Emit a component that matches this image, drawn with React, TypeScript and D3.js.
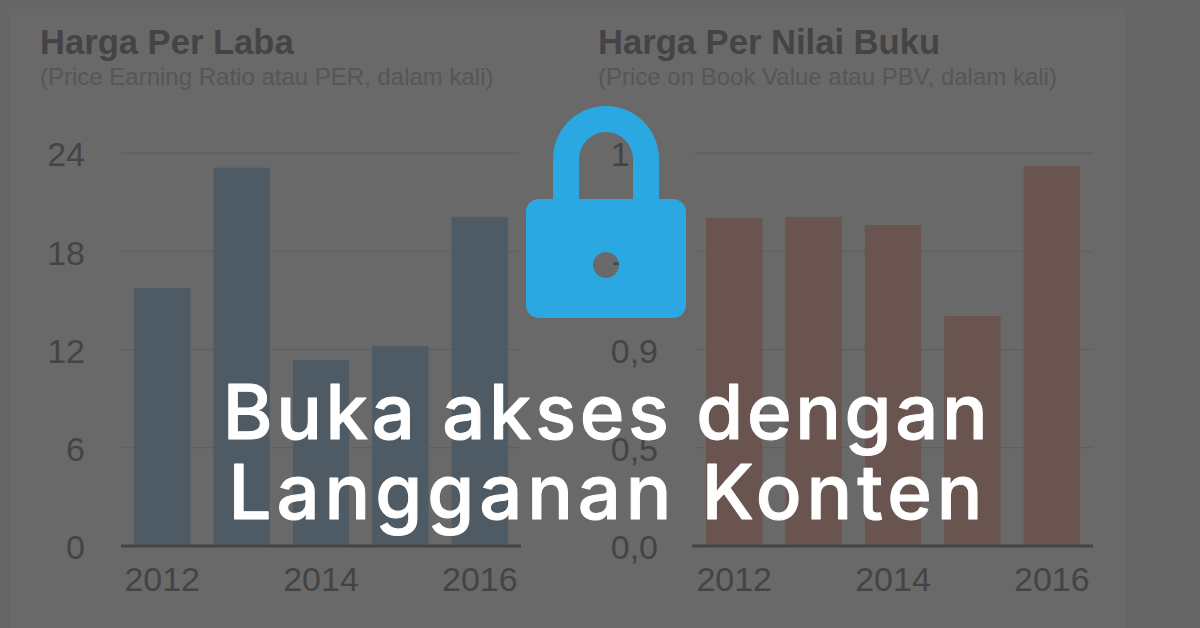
import { useEffect, useRef } from "react";
import * as d3 from "d3";

const years = ["2012", "2013", "2014", "2015", "2016"];
const yearLabels = ["2012", "2014", "2016"];
const perValues = [15.76, 23.1, 11.36, 12.2, 20.1];
const pbvValues = [1.502, 1.507, 1.47, 1.053, 1.74];
const perTicks = [0, 6, 12, 18, 24];
const pbvTicks = [0, 0.45, 0.9, 1.35, 1.8];
const pbvTickLabels = ["0,0", "0,5", "0,9", "1,4", "1,8"];

const FONT = "'Liberation Sans', Arial, sans-serif";
const INK = "#444444";

interface PanelProps {
  title: string;
  subtitle: string;
  values: number[];
  ticks: number[];
  tickLabels: string[];
  maxValue: number;
  color: string;
  titleX: number;
  labelX: number;
  axisX: [number, number];
  gridX: [number, number];
  barX: [number, number];
}

function Panel(props: PanelProps) {
  const ref = useRef<SVGGElement>(null);
  const { title, subtitle, values, ticks, tickLabels, maxValue, color, titleX, labelX, axisX, gridX, barX } = props;

  useEffect(() => {
    if (!ref.current) return;
    const g = d3.select(ref.current);
    g.selectAll("*").remove();

    const x = d3.scaleBand<string>().domain(years).range(barX).paddingInner(0.29);
    const y = d3.scaleLinear().domain([0, maxValue]).range([546, 153]);

    // Gridlines under the bars
    g.append("g")
      .selectAll("line")
      .data(ticks.slice(1))
      .join("line")
      .attr("x1", gridX[0])
      .attr("x2", gridX[1])
      .attr("y1", (d) => y(d))
      .attr("y2", (d) => y(d))
      .attr("stroke", "#5d5d5d")
      .attr("stroke-width", 1);

    g.append("g")
      .selectAll("rect")
      .data(values)
      .join("rect")
      .attr("x", (_, i) => x(years[i]) ?? 0)
      .attr("y", (d) => y(d))
      .attr("width", x.bandwidth())
      .attr("height", (d) => y(0) - y(d))
      .attr("fill", color);

    // Value axis
    const yAxis = g
      .append("g")
      .attr("transform", `translate(${labelX},0)`)
      .call(
        d3
          .axisLeft(y)
          .tickValues(ticks)
          .tickSize(0)
          .tickPadding(0)
          .tickFormat((_, i) => tickLabels[i])
      );
    yAxis.select(".domain").remove();
    yAxis
      .selectAll("text")
      .attr("font-family", FONT)
      .attr("font-size", 34)
      .attr("fill", INK)
      .attr("dy", "0.38em");

    // Year axis
    const xAxis = g
      .append("g")
      .attr("transform", "translate(0,546)")
      .call(
        d3
          .axisBottom(x)
          .tickValues(yearLabels)
          .tickSize(0)
          .tickPadding(21)
      );
    xAxis.select(".domain").remove();
    xAxis
      .selectAll("text")
      .attr("font-family", FONT)
      .attr("font-size", 34)
      .attr("fill", INK);

    g.append("line")
      .attr("x1", axisX[0])
      .attr("x2", axisX[1])
      .attr("y1", 546)
      .attr("y2", 546)
      .attr("stroke", "#454545")
      .attr("stroke-width", 3);
  }, []);

  return (
    <g>
      <text x={titleX} y={54} fontFamily={FONT} fontWeight="bold" fontSize={34.6} fill={INK}>
        {title}
      </text>
      <text x={titleX} y={85} fontFamily={FONT} fontSize={24} fill="#565656">
        {subtitle}
      </text>
      <g ref={ref} />
    </g>
  );
}

export default function App() {
  return (
    <svg
      width={1200}
      height={628}
      style={{ position: "absolute", left: 0, top: 0, display: "block" }}
    >
      <rect width={1200} height={628} fill="#656565" />
      <rect x={9} y={9} width={1116} height={619} fill="#696969" />

      <Panel
        title="Harga Per Laba"
        subtitle="(Price Earning Ratio atau PER, dalam kali)"
        values={perValues}
        ticks={perTicks}
        tickLabels={perTicks.map(String)}
        maxValue={24}
        color="#4e5b65"
        titleX={40}
        labelX={85}
        axisX={[121, 521]}
        gridX={[122, 519]}
        barX={[134, 508]}
      />
      <Panel
        title="Harga Per Nilai Buku"
        subtitle="(Price on Book Value atau PBV, dalam kali)"
        values={pbvValues}
        ticks={pbvTicks}
        tickLabels={pbvTickLabels}
        maxValue={1.8}
        color="#69544f"
        titleX={598}
        labelX={658}
        axisX={[692, 1093]}
        gridX={[694, 1092]}
        barX={[706, 1080]}
      />

      {/* Lock */}
      <path
        fillRule="evenodd"
        fill="#2ba8e2"
        d="M553 199V159a53 53 0 0 1 106 0V199H633V159a27 27 0 0 0 -54 0V199Z
           M539 199H673a13 13 0 0 1 13 13V305a13 13 0 0 1 -13 13H539a13 13 0 0 1 -13 -13V212a13 13 0 0 1 13 -13Z
           M606 252a13 13 0 1 0 0.01 0Z"
      />

      <g
        fontFamily="Inter, Lato, sans-serif"
        fontWeight={500}
        fontSize={76}
        fill="#fff"
        stroke="#fff"
        strokeWidth={1}
        strokeLinejoin="round"
        textAnchor="middle"
      >
        <text x={607} y={439} letterSpacing={3.6}>Buka akses dengan</text>
        <text x={608} y={519} letterSpacing={4.9}>Langganan Konten</text>
      </g>
    </svg>
  );
}
